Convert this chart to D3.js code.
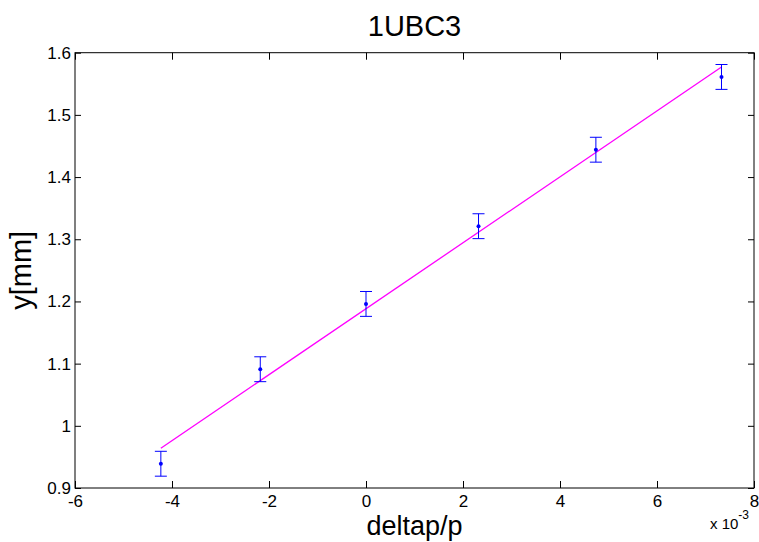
<!DOCTYPE html>
<html lang="en">
<head>
<meta charset="utf-8">
<title>1UBC3</title>
<style>
  body { margin: 0; background: #fff; }
  svg { display: block; font-family: "Liberation Sans", Arial, sans-serif; }
</style>
</head>
<body>
<script src="https://d3js.org/d3.v7.min.js"></script>
<script>
// measured points (x in units of 1e-3)
const xVals = [-4.23, -2.18, 0.0, 2.32, 4.74, 7.33];
const yVals = [0.939, 1.091, 1.196, 1.321, 1.444, 1.561];
const yErr = [0.02, 0.02, 0.02, 0.02, 0.02, 0.02];

// linear fit drawn as a line between its end points
const fitX = [-4.23, 7.33];
const fitY = [0.964, 1.577];

const xTicks = [-6, -4, -2, 0, 2, 4, 6, 8];
const yTicks = [0.9, 1, 1.1, 1.2, 1.3, 1.4, 1.5, 1.6];

const w = 759, h = 542;
const mLeft = 75, mRight = 754, mTop = 52.7, mBottom = 488;

const svg = d3.select("body").append("svg")
  .attr("width", w)
  .attr("height", h);

const x = d3.scaleLinear().domain([-6, 8]).range([mLeft, mRight]);
const y = d3.scaleLinear().domain([0.9, 1.6]).range([mBottom, mTop]);

const fmt = d => d3.format("")(d).replace("−", "-");

// axes, ticks pointing inward
svg.append("g")
  .attr("transform", `translate(0,${mBottom})`)
  .call(d3.axisBottom(x).tickValues(xTicks).tickSizeInner(-7).tickSizeOuter(0).tickPadding(7).tickFormat(fmt))
  .call(g => g.selectAll("text").attr("font-size", 17).attr("fill", "#000"));

svg.append("g")
  .attr("transform", `translate(0,${mTop})`)
  .call(d3.axisTop(x).tickValues(xTicks).tickSizeInner(-7).tickSizeOuter(0).tickFormat(""));

svg.append("g")
  .attr("transform", `translate(${mLeft},0)`)
  .call(d3.axisLeft(y).tickValues(yTicks).tickSizeInner(-6).tickSizeOuter(0).tickPadding(4).tickFormat(d3.format("")))
  .call(g => g.selectAll("text").attr("font-size", 17).attr("fill", "#000"));

svg.append("g")
  .attr("transform", `translate(${mRight},0)`)
  .call(d3.axisRight(y).tickValues(yTicks).tickSizeInner(-6).tickSizeOuter(0).tickFormat(""));

svg.selectAll(".domain").remove();
svg.selectAll(".tick line").attr("stroke", "#000");

svg.append("rect")
  .attr("x", mLeft).attr("y", mTop)
  .attr("width", mRight - mLeft).attr("height", mBottom - mTop)
  .attr("fill", "none").attr("stroke", "#000").attr("stroke-width", 1);

// fit line
svg.append("path")
  .datum(fitX.map((d, i) => [d, fitY[i]]))
  .attr("fill", "none")
  .attr("stroke", "#ff00ff")
  .attr("stroke-width", 1.3)
  .attr("d", d3.line().x(d => x(d[0])).y(d => y(d[1])));

// error bars
const pts = xVals.map((d, i) => ({ x: d, y: yVals[i], e: yErr[i] }));
const eb = svg.append("g").attr("stroke", "#0000ff").attr("stroke-width", 1);
eb.selectAll(".v").data(pts).enter().append("line")
  .attr("x1", d => x(d.x)).attr("x2", d => x(d.x))
  .attr("y1", d => y(d.y - d.e)).attr("y2", d => y(d.y + d.e));
eb.selectAll(".t").data(pts).enter().append("line")
  .attr("x1", d => x(d.x) - 6).attr("x2", d => x(d.x) + 6)
  .attr("y1", d => y(d.y + d.e)).attr("y2", d => y(d.y + d.e));
eb.selectAll(".b").data(pts).enter().append("line")
  .attr("x1", d => x(d.x) - 6).attr("x2", d => x(d.x) + 6)
  .attr("y1", d => y(d.y - d.e)).attr("y2", d => y(d.y - d.e));

svg.selectAll(".dot").data(pts).enter().append("circle")
  .attr("cx", d => x(d.x)).attr("cy", d => y(d.y))
  .attr("r", 2).attr("fill", "#0000ff");

// labels
svg.append("text")
  .attr("x", (mLeft + mRight) / 2).attr("y", 36)
  .attr("text-anchor", "middle").attr("font-size", 29)
  .text("1UBC3");

svg.append("text")
  .attr("x", (mLeft + mRight) / 2).attr("y", 535)
  .attr("text-anchor", "middle").attr("font-size", 27)
  .text("deltap/p");

svg.append("text")
  .attr("transform", `translate(31,${(mTop + mBottom) / 2}) rotate(-90)`)
  .attr("text-anchor", "middle").attr("font-size", 29)
  .text("y[mm]");

const mult = svg.append("text")
  .attr("x", 710).attr("y", 529).attr("font-size", 15);
mult.append("tspan").text("x 10");
mult.append("tspan").attr("dy", -10).attr("font-size", 12).text("-3");
</script>
</body>
</html>
